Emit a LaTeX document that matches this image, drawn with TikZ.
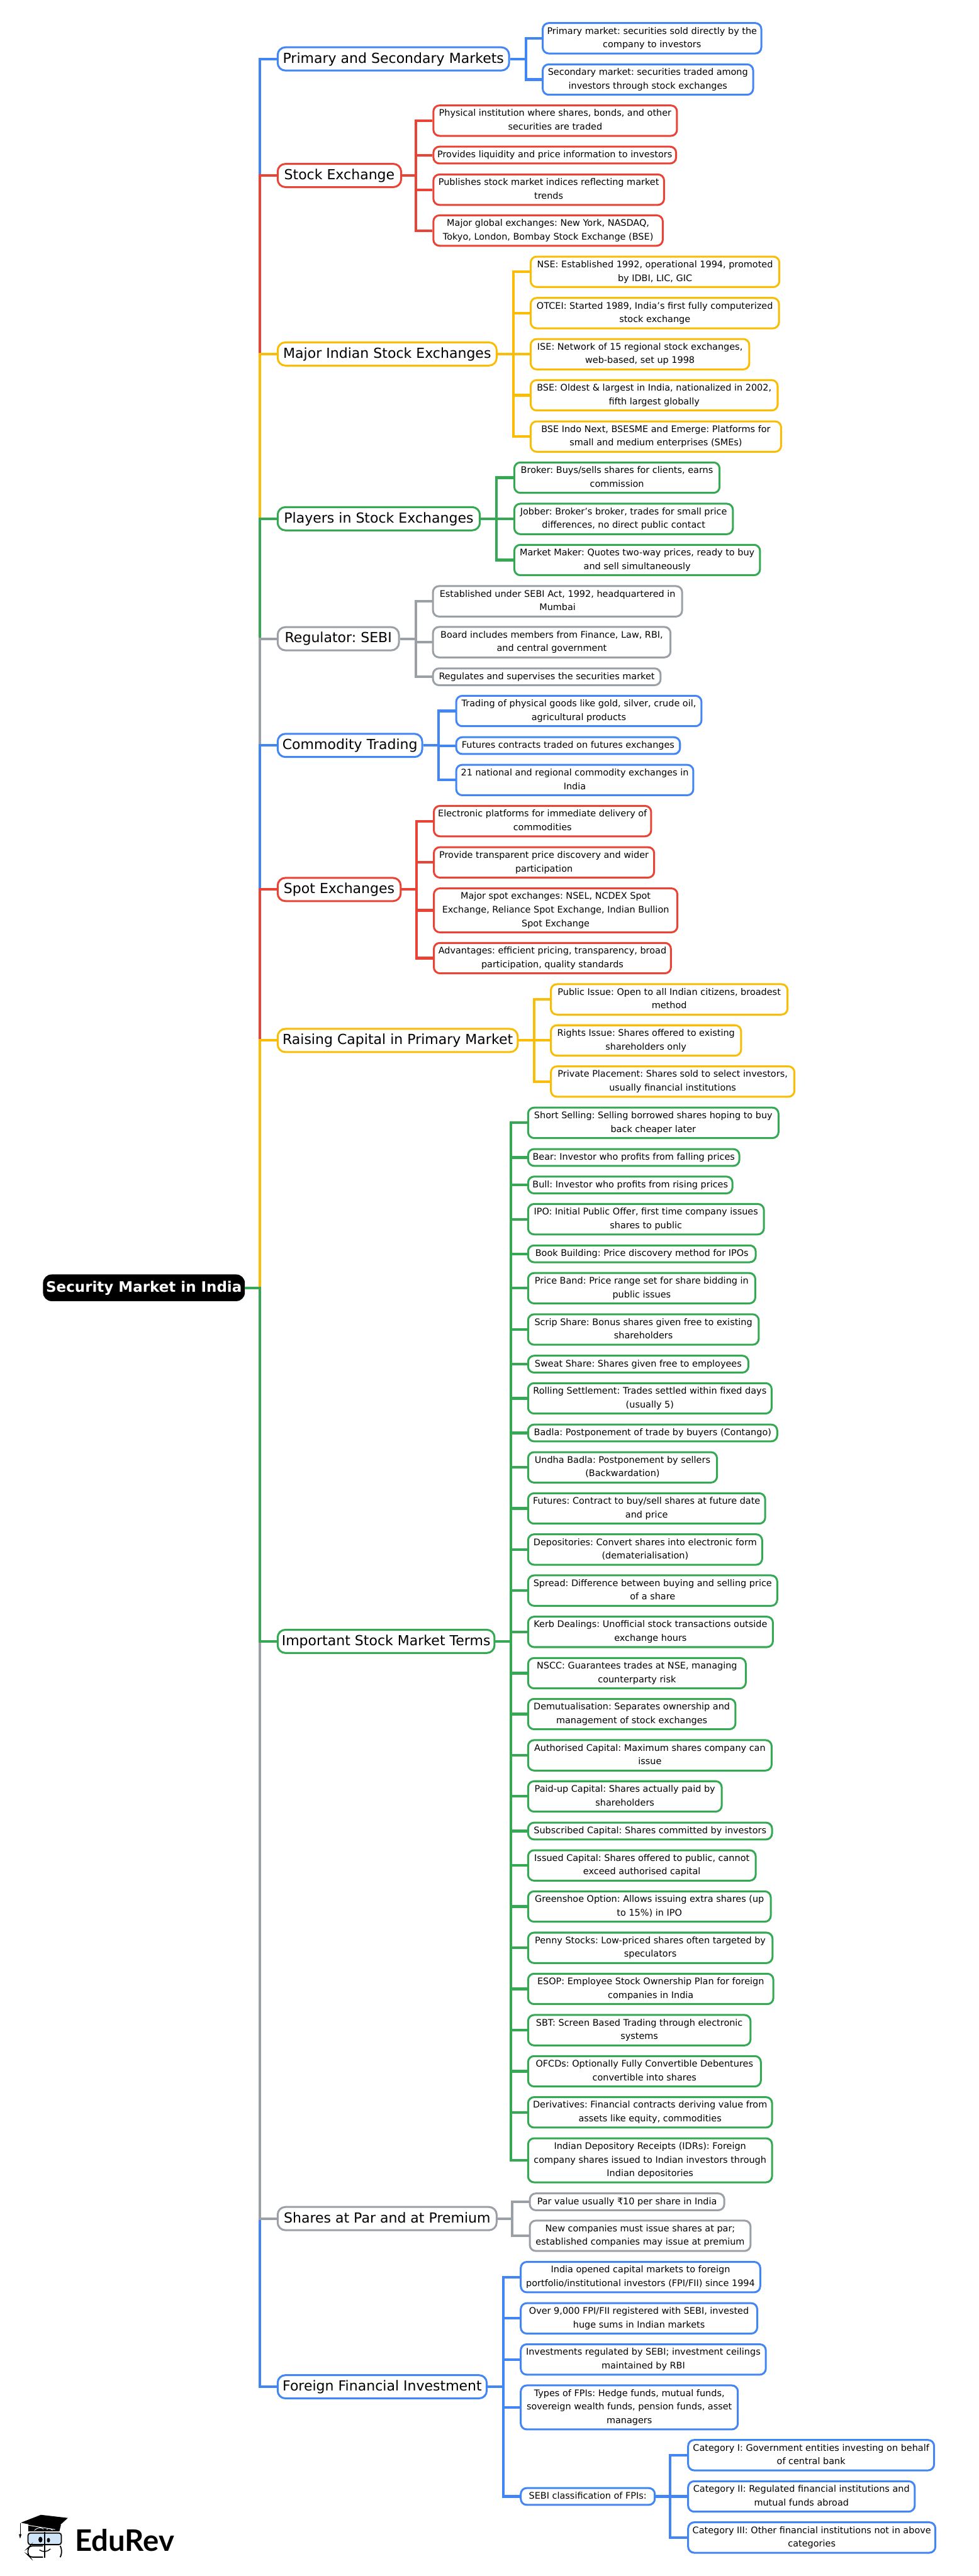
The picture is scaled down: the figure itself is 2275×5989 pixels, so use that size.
\documentclass[tikz,border=0pt]{standalone}
\usepackage{fontspec}
\setmainfont{DejaVu Sans}
\newfontfamily\logofont{Lato}
\definecolor{gblue}{HTML}{4285F4}
\definecolor{gred}{HTML}{EA4335}
\definecolor{gyellow}{HTML}{FBBC04}
\definecolor{ggreen}{HTML}{34A853}
\definecolor{ggray}{HTML}{9AA0A6}
\definecolor{lens}{HTML}{CFE5F7}
\frenchspacing
\begin{document}
\begin{tikzpicture}[x=0.5pt, y=-0.5pt,
rootbox/.style={fill=black,text=white,rounded corners=10pt,inner sep=0pt,minimum height=31pt,text height=12.5pt,text depth=3.2pt,font=\bfseries\fontsize{16.8}{20}\selectfont},
branch/.style={draw=#1,anchor=west,line width=2.2pt,rounded corners=9pt,inner sep=0pt,minimum height=27pt,text height=12.5pt,text depth=3.2pt,font=\fontsize{16.1}{20}\selectfont},
leaf/.style={draw=#1,anchor=west,line width=2.2pt,rounded corners=7pt,inner sep=0pt,align=center,font=\fontsize{10.55}{15.8}\selectfont,text depth=4.2pt},
boxw/.style={minimum width=#1*0.5pt},
rows/.style={minimum height={(#1*31.6+7.5)*0.5pt},text height={(#1-1)*15.8pt+10pt}},
link/.style={draw=#1,line width=3pt}]

\path[use as bounding box,fill=white] (0,0) rectangle (2275,5989);

%root and the trunk
\node[rootbox,minimum width=234.5pt] (root) at (334.5,2994) {Security Market in India};
\coordinate (trunk) at (604.5,2994);

%first level
\node[branch=gblue,boxw=538] (prim) at (643,137) {Primary and Secondary Markets};
\node[branch=gred,boxw=287] (stock) at (643,408) {Stock Exchange};
\node[branch=gyellow,boxw=509] (major) at (643,823) {Major Indian Stock Exchanges};
\node[branch=ggreen,boxw=470] (players) at (643,1206) {Players in Stock Exchanges};
\node[branch=ggray,boxw=282] (sebi) at (643,1485) {Regulator: SEBI};
\node[branch=gblue,boxw=336] (commod) at (643,1733) {Commodity Trading};
\node[branch=gred,boxw=286] (spot) at (643,2068) {Spot Exchanges};
\node[branch=gyellow,boxw=558] (raising) at (643,2419) {Raising Capital in Primary Market};
\node[branch=ggreen,boxw=504] (terms) at (643,3816) {Important Stock Market Terms};
\node[branch=ggray,boxw=509] (par) at (643,5158) {Shares at Par and at Premium};
\node[branch=gblue,boxw=486] (foreign) at (643,5549) {Foreign Financial Investment};

%primary and secondary
\node[leaf=gblue,boxw=508,rows=2] (prim1) at (1259,89) {Primary market: securities sold directly by the\\company to investors};
\node[leaf=gblue,boxw=489,rows=2] (prim2) at (1259,185) {Secondary market: securities traded among\\investors through stock exchanges};

%stock exchange
\node[leaf=gred,boxw=566,rows=2] (stock1) at (1005,280.5) {Physical institution where shares, bonds, and other\\securities are traded};
\node[leaf=gred,boxw=564,rows=1] (stock2) at (1005,360.5) {Provides liquidity and price information to investors};
\node[leaf=gred,boxw=536,rows=2] (stock3) at (1005,441) {Publishes stock market indices reflecting market\\trends};
\node[leaf=gred,boxw=533,rows=2] (stock4) at (1005,536) {Major global exchanges: New York, NASDAQ,\\Tokyo, London, Bombay Stock Exchange (BSE)};

%major indian
\node[leaf=gyellow,boxw=578,rows=2] (major1) at (1231,632) {NSE: Established 1992, operational 1994, promoted\\by IDBI, LIC, GIC};
\node[leaf=gyellow,boxw=577,rows=2] (major2) at (1231,728) {OTCEI: Started 1989, India’s first fully computerized\\stock exchange};
\node[leaf=gyellow,boxw=508,rows=2] (major3) at (1231,823.5) {ISE: Network of 15 regional stock exchanges,\\web-based, set up 1998};
\node[leaf=gyellow,boxw=574,rows=2] (major4) at (1231,919) {BSE: Oldest \& largest in India, nationalized in 2002,\\fifth largest globally};
\node[leaf=gyellow,boxw=582,rows=2] (major5) at (1231,1015) {BSE Indo Next, BSESME and Emerge: Platforms for\\small and medium enterprises (SMEs)};

%players
\node[leaf=ggreen,boxw=477,rows=2] (players1) at (1193,1110.5) {Broker: Buys/sells shares for clients, earns\\commission};
\node[leaf=ggreen,boxw=508,rows=2] (players2) at (1193,1206.5) {Jobber: Broker’s broker, trades for small price\\differences, no direct public contact};
\node[leaf=ggreen,boxw=571,rows=2] (players3) at (1193,1302) {Market Maker: Quotes two-way prices, ready to buy\\and sell simultaneously};

%regulator
\node[leaf=ggray,boxw=579,rows=2] (sebi1) at (1004,1398) {Established under SEBI Act, 1992, headquartered in\\Mumbai};
\node[leaf=ggray,boxw=552,rows=2] (sebi2) at (1004,1493) {Board includes members from Finance, Law, RBI,\\and central government};
\node[leaf=ggray,boxw=529,rows=1] (sebi3) at (1004,1573.5) {Regulates and supervises the securities market};

%commodity
\node[leaf=gblue,boxw=570,rows=2] (commod1) at (1058,1653) {Trading of physical goods like gold, silver, crude oil,\\agricultural products};
\node[leaf=gblue,boxw=520,rows=1] (commod2) at (1058,1733.5) {Futures contracts traded on futures exchanges};
\node[leaf=gblue,boxw=551,rows=2] (commod3) at (1058,1813.5) {21 national and regional commodity exchanges in\\India};

%spot
\node[leaf=gred,boxw=505,rows=2] (spot1) at (1006,1909) {Electronic platforms for immediate delivery of\\commodities};
\node[leaf=gred,boxw=512,rows=2] (spot2) at (1006,2005) {Provide transparent price discovery and wider\\participation};
\node[leaf=gred,boxw=566,rows=3] (spot3) at (1006,2116.5) {Major spot exchanges: NSEL, NCDEX Spot\\Exchange, Reliance Spot Exchange, Indian Bullion\\Spot Exchange};
\node[leaf=gred,boxw=551,rows=2] (spot4) at (1006,2227.5) {Advantages: efficient pricing, transparency, broad\\participation, quality standards};

%raising capital
\node[leaf=gyellow,boxw=550,rows=2] (raising1) at (1278,2323.5) {Public Issue: Open to all Indian citizens, broadest\\method};
\node[leaf=gyellow,boxw=442,rows=2] (raising2) at (1278,2419) {Rights Issue: Shares offered to existing\\shareholders only};
\node[leaf=gyellow,boxw=566,rows=2] (raising3) at (1278,2514.5) {Private Placement: Shares sold to select investors,\\usually financial institutions};

%terms
\node[leaf=ggreen,boxw=582,rows=2] (term1) at (1225,2610.5) {Short Selling: Selling borrowed shares hoping to buy\\back cheaper later};
\node[leaf=ggreen,boxw=491,rows=1] (term2) at (1225,2691) {Bear: Investor who profits from falling prices};
\node[leaf=ggreen,boxw=475,rows=1] (term3) at (1225,2755) {Bull: Investor who profits from rising prices};
\node[leaf=ggreen,boxw=548,rows=2] (term4) at (1225,2834.5) {IPO: Initial Public Offer, first time company issues\\shares to public};
\node[leaf=ggreen,boxw=529,rows=1] (term5) at (1225,2915) {Book Building: Price discovery method for IPOs};
\node[leaf=ggreen,boxw=528,rows=2] (term6) at (1225,2995) {Price Band: Price range set for share bidding in\\public issues};
\node[leaf=ggreen,boxw=536,rows=2] (term7) at (1225,3091) {Scrip Share: Bonus shares given free to existing\\shareholders};
\node[leaf=ggreen,boxw=512,rows=1] (term8) at (1225,3171.5) {Sweat Share: Shares given free to employees};
\node[leaf=ggreen,boxw=566,rows=2] (term9) at (1225,3251) {Rolling Settlement: Trades settled within fixed days\\(usually 5)};
\node[leaf=ggreen,boxw=579,rows=1] (term10) at (1225,3331.5) {Badla: Postponement of trade by buyers (Contango)};
\node[leaf=ggreen,boxw=439,rows=2] (term11) at (1225,3411.5) {Undha Badla: Postponement by sellers\\(Backwardation)};
\node[leaf=ggreen,boxw=551,rows=2] (term12) at (1225,3507) {Futures: Contract to buy/sell shares at future date\\and price};
\node[leaf=ggreen,boxw=544,rows=2] (term13) at (1225,3602.5) {Depositories: Convert shares into electronic form\\(dematerialisation)};
\node[leaf=ggreen,boxw=579,rows=2] (term14) at (1225,3698) {Spread: Difference between buying and selling price\\of a share};
\node[leaf=ggreen,boxw=569,rows=2] (term15) at (1225,3794) {Kerb Dealings: Unofficial stock transactions outside\\exchange hours};
\node[leaf=ggreen,boxw=506,rows=2] (term16) at (1225,3890) {NSCC: Guarantees trades at NSE, managing\\counterparty risk};
\node[leaf=ggreen,boxw=482,rows=2] (term17) at (1225,3985) {Demutualisation: Separates ownership and\\management of stock exchanges};
\node[leaf=ggreen,boxw=566,rows=2] (term18) at (1225,4081) {Authorised Capital: Maximum shares company can\\issue};
\node[leaf=ggreen,boxw=450,rows=2] (term19) at (1225,4176.5) {Paid-up Capital: Shares actually paid by\\shareholders};
\node[leaf=ggreen,boxw=567,rows=1] (term20) at (1225,4257) {Subscribed Capital: Shares committed by investors};
\node[leaf=ggreen,boxw=529,rows=2] (term21) at (1225,4337) {Issued Capital: Shares offered to public, cannot\\exceed authorised capital};
\node[leaf=ggreen,boxw=564,rows=2] (term22) at (1225,4432.5) {Greenshoe Option: Allows issuing extra shares (up\\to 15\%) in IPO};
\node[leaf=ggreen,boxw=568,rows=2] (term23) at (1225,4528.5) {Penny Stocks: Low-priced shares often targeted by\\speculators};
\node[leaf=ggreen,boxw=570,rows=2] (term24) at (1225,4624) {ESOP: Employee Stock Ownership Plan for foreign\\companies in India};
\node[leaf=ggreen,boxw=517,rows=2] (term25) at (1225,4720) {SBT: Screen Based Trading through electronic\\systems};
\node[leaf=ggreen,boxw=541,rows=2] (term26) at (1225,4815.5) {OFCDs: Optionally Fully Convertible Debentures\\convertible into shares};
\node[leaf=ggreen,boxw=567,rows=2] (term27) at (1225,4911) {Derivatives: Financial contracts deriving value from\\assets like equity, commodities};
\node[leaf=ggreen,boxw=567,rows=3] (term28) at (1225,5022.5) {Indian Depository Receipts (IDRs): Foreign\\company shares issued to Indian investors through\\Indian depositories};

%par and premium
\node[leaf=ggray,boxw=452,rows=1] (par1) at (1229,5119) {Par value usually ₹10 per share in India};
\node[leaf=ggray,boxw=513,rows=2] (par2) at (1229,5198) {New companies must issue shares at par;\\established companies may issue at premium};

%foreign investment
\node[leaf=gblue,boxw=556.5,rows=2] (foreign1) at (1208,5294) {India opened capital markets to foreign\\portfolio/institutional investors (FPI/FII) since 1994};
\node[leaf=gblue,boxw=549.5,rows=2] (foreign2) at (1208,5390) {Over 9,000 FPI/FII registered with SEBI, invested\\huge sums in Indian markets};
\node[leaf=gblue,boxw=569.5,rows=2] (foreign3) at (1208,5485.5) {Investments regulated by SEBI; investment ceilings\\maintained by RBI};
\node[leaf=gblue,boxw=504.5,rows=3] (foreign4) at (1208,5597) {Types of FPIs: Hedge funds, mutual funds,\\sovereign wealth funds, pension funds, asset\\managers};
\node[leaf=gblue,boxw=311.5,rows=1] (foreign5) at (1208,5804) {SEBI classification of FPIs:};
\node[leaf=gblue,boxw=571.5,rows=2] (cat1) at (1597,5708) {Category I: Government entities investing on behalf\\of central bank};
\node[leaf=gblue,boxw=526.5,rows=2] (cat2) at (1597,5804) {Category II: Regulated financial institutions and\\mutual funds abroad};
\node[leaf=gblue,boxw=574.5,rows=2] (cat3) at (1597,5899.5) {Category III: Other financial institutions not in above\\categories};

%trunk, nearest branch stays on top
\foreach \n/\col in {prim/gblue,stock/gred,major/gyellow,players/ggreen,sebi/ggray,commod/gblue,spot/gred,raising/gyellow,foreign/gblue,par/ggray,terms/ggreen}
  \draw[link=\col] (root.east) -- (trunk) |- (\n.west);

%second level buses
\coordinate (busprim) at (1222,0);
\coordinate (busstock) at (967,0);
\coordinate (busmajor) at (1193,0);
\coordinate (busplayers) at (1154,0);
\coordinate (bussebi) at (966,0);
\coordinate (buscommod) at (1019,0);
\coordinate (busspot) at (968,0);
\coordinate (busraising) at (1241,0);
\coordinate (busterms) at (1187,0);
\coordinate (buspar) at (1190,0);
\coordinate (busforeign) at (1170,0);
\coordinate (buscat) at (1557,0);

\foreach \n in {1,2} \draw[link=gblue] (prim.east) -- (prim.east -| busprim) |- (prim\n.west);
\foreach \n in {1,...,4} \draw[link=gred] (stock.east) -- (stock.east -| busstock) |- (stock\n.west);
\foreach \n in {1,...,5} \draw[link=gyellow] (major.east) -- (major.east -| busmajor) |- (major\n.west);
\foreach \n in {1,2,3} \draw[link=ggreen] (players.east) -- (players.east -| busplayers) |- (players\n.west);
\foreach \n in {1,2,3} \draw[link=ggray] (sebi.east) -- (sebi.east -| bussebi) |- (sebi\n.west);
\foreach \n in {1,2,3} \draw[link=gblue] (commod.east) -- (commod.east -| buscommod) |- (commod\n.west);
\foreach \n in {1,...,4} \draw[link=gred] (spot.east) -- (spot.east -| busspot) |- (spot\n.west);
\foreach \n in {1,2,3} \draw[link=gyellow] (raising.east) -- (raising.east -| busraising) |- (raising\n.west);
\foreach \n in {1,...,28} \draw[link=ggreen] (terms.east) -- (terms.east -| busterms) |- (term\n.west);
\foreach \n in {1,2} \draw[link=ggray] (par.east) -- (par.east -| buspar) |- (par\n.west);
\foreach \n in {1,...,5} \draw[link=gblue] (foreign.east) -- (foreign.east -| busforeign) |- (foreign\n.west);
\foreach \n in {1,2,3} \draw[link=gblue] (foreign5.east) -- (foreign5.east -| buscat) |- (cat\n.west);

%logo
\fill (65.7,5869) -- (65.7,5885) -- (138,5885) -- (141.7,5870) -- cycle;
\fill (48.3,5865) -- (95,5846.7) -- (157.7,5854) -- (128.3,5880.7) -- cycle;
\draw[white,line width=0.7pt] (66,5871) -- (128,5881);
\draw[line width=0.8pt] (47.3,5866) -- (47.3,5892);
\fill (44,5892) -- (50,5892) -- (46.7,5902) -- cycle;
\draw[white,line width=0.6pt] (80,5883) .. controls (88,5875) and (96,5876) .. (101,5880);
\draw[white,line width=0.6pt] (108,5881) .. controls (113,5877) and (118,5878) .. (122,5883);
\draw[fill=lens,line width=1.3pt,rounded corners=3pt] (65,5889) rectangle (142.7,5916);
\draw[line width=1.3pt,rounded corners=3pt] (100,5919) -- (70,5919) -- (65,5924) -- (65,5940) -- (70,5945) -- (100,5945);
\draw[line width=1.3pt,rounded corners=3pt] (140,5919) -- (143,5924) -- (143,5940) -- (140,5945);
\draw[line width=1.3pt] (103.3,5887) -- (103.3,5946);
\fill (94,5904.3) ellipse [x radius=4.7,y radius=6.7];
\fill (112.7,5905.7) ellipse [x radius=3.7,y radius=5.3];
\draw[line width=1pt] (91.7,5928.3) .. controls (100,5934) and (110,5933) .. (117.3,5926);
\node[anchor=base west,inner sep=0pt,font=\logofont\bfseries\fontsize{34.5}{40}\selectfont] (brand) at (174,5931) {EduRev};
\end{tikzpicture}
\end{document}
